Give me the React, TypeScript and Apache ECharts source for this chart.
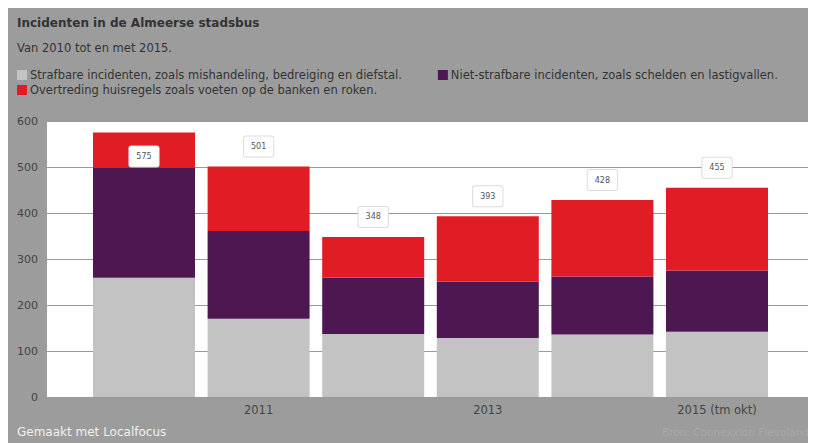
import React, { useEffect, useRef } from "react";
import * as echarts from "echarts";

const categories = ["2010", "2011", "2012", "2013", "2014", "2015 (tm okt)"];
const strafbaar = [259, 170, 137, 128, 136, 142];
const nietStrafbaar = [239, 191, 122, 123, 126, 133];
const huisregels = [77, 140, 89, 142, 166, 180];
const totals = [575, 501, 348, 393, 428, 455];
const yTicks = [0, 100, 200, 300, 400, 500, 600];

const seriesNames = [
  "Strafbare incidenten, zoals mishandeling, bedreiging en diefstal.",
  "Niet-strafbare incidenten, zoals schelden en lastigvallen.",
  "Overtreding huisregels zoals voeten op de banken en roken.",
];

const FONT = "DejaVu Sans";

export default function App() {
  const ref = useRef<HTMLDivElement>(null);
  useEffect(() => {
    if (!ref.current) return;
    const chart = echarts.init(ref.current, undefined, { renderer: "svg" });
    const labelBox = {
      show: true,
      fontFamily: FONT,
      fontSize: 8,
      color: "#555",
      backgroundColor: "#fff",
      borderColor: "#dcdcdc",
      borderWidth: 1,
      borderRadius: 2,
      padding: [6, 7],
    };
    chart.setOption({
      animation: false,
      backgroundColor: "#9c9c9c",
      textStyle: { fontFamily: FONT },
      title: [
        {
          text: "Incidenten in de Almeerse stadsbus",
          left: 4,
          top: 4,
          textStyle: { fontFamily: FONT, fontSize: 12, fontWeight: "bold", color: "#333" },
        },
        {
          text: "Van 2010 tot en met 2015.",
          left: 4,
          top: 29,
          textStyle: { fontFamily: FONT, fontSize: 11.5, fontWeight: "normal", color: "#333" },
        },
        {
          text: "Gemaakt met Localfocus",
          left: 4,
          top: 413,
          textStyle: { fontFamily: FONT, fontSize: 12, fontWeight: "normal", color: "#f0f0f0" },
        },
        {
          text: "Bron: Connexxion Flevoland",
          right: 2,
          top: 413,
          textStyle: { fontFamily: FONT, fontSize: 10.5, fontWeight: "normal", color: "#a9a9a9" },
        },
      ],
      legend: [
        {
          data: [seriesNames[0], seriesNames[1]],
          left: 4,
          top: 56,
          itemWidth: 10,
          itemHeight: 10,
          itemGap: 36,
          icon: "rect",
          textStyle: { fontFamily: FONT, fontSize: 11.5, color: "#333", padding: [0, 0, 0, -2] },
        },
        {
          data: [seriesNames[2]],
          left: 4,
          top: 71,
          itemWidth: 10,
          itemHeight: 10,
          icon: "rect",
          textStyle: { fontFamily: FONT, fontSize: 11.5, color: "#333", padding: [0, 0, 0, -2] },
        },
      ],
      grid: [
        {
          left: 39,
          right: 3,
          top: 113,
          height: 276,
          show: true,
          backgroundColor: "#fff",
          borderWidth: 0,
        },
        {
          left: 78.7,
          right: 41.7,
          top: 113,
          height: 276,
        },
      ],
      xAxis: [
        { type: "value", gridIndex: 0, min: 0, max: 1, show: false },
        {
          type: "category",
          gridIndex: 1,
          data: categories,
          axisLine: { show: false },
          axisTick: { show: false },
          axisLabel: {
            interval: (index: number) => index % 2 === 1,
            fontFamily: FONT,
            fontSize: 11.5,
            color: "#444",
            margin: 7,
          },
        },
      ],
      yAxis: [
        {
          type: "value",
          gridIndex: 0,
          min: 0,
          max: 600,
          interval: 100,
          axisLine: { show: false },
          axisTick: { show: false },
          axisLabel: {
            fontFamily: FONT,
            fontSize: 11,
            color: "#444",
            margin: 9,
            formatter: (v: number) => (yTicks.includes(v) ? String(v) : ""),
          },
          splitLine: { show: true, lineStyle: { color: "#9a9a9a", width: 1 } },
        },
        { type: "value", gridIndex: 1, min: 0, max: 600, interval: 100, show: false },
      ],
      series: [
        {
          name: seriesNames[0],
          type: "bar",
          stack: "total",
          xAxisIndex: 1,
          yAxisIndex: 1,
          barWidth: 102,
          itemStyle: { color: "#c3c3c3" },
          data: strafbaar,
        },
        {
          name: seriesNames[1],
          type: "bar",
          stack: "total",
          xAxisIndex: 1,
          yAxisIndex: 1,
          barWidth: 102,
          itemStyle: { color: "#4d1852" },
          data: nietStrafbaar,
        },
        {
          name: seriesNames[2],
          type: "bar",
          stack: "total",
          xAxisIndex: 1,
          yAxisIndex: 1,
          barWidth: 102,
          itemStyle: { color: "#e01c24" },
          data: huisregels.map((v, i) =>
            i === 0
              ? {
                  value: v,
                  label: { ...labelBox, position: "insideTop", distance: 14, formatter: String(totals[i]) },
                }
              : {
                  value: v,
                  label: { ...labelBox, position: "top", distance: 10, formatter: String(totals[i]) },
                }
          ),
        },
      ],
    });
    return () => chart.dispose();
  }, []);
  return <div ref={ref} style={{ width: 808, height: 435 }} />;
}
